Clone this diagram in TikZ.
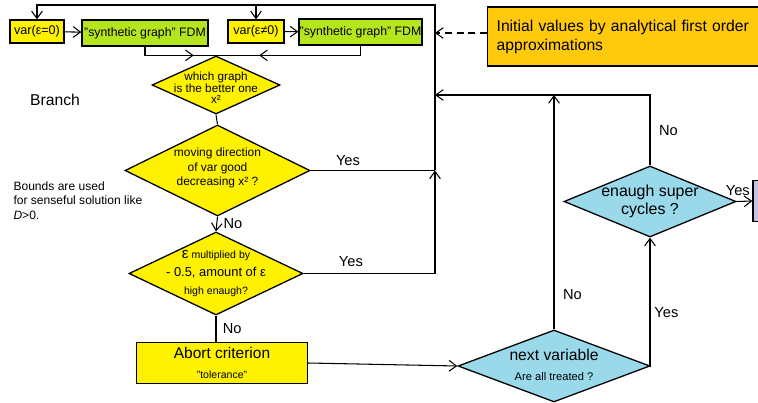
\documentclass[tikz,border=0pt]{standalone}
\usepackage{fontspec}
\setmainfont{Liberation Sans}
\usetikzlibrary{shapes.geometric, arrows.meta, positioning, calc, decorations.markings}

\definecolor{boxyellow}{RGB}{255,242,0}
\definecolor{boxgreen}{RGB}{181,230,29}
\definecolor{boxorange}{RGB}{255,201,14}
\definecolor{boxblue}{RGB}{153,217,234}
\definecolor{boxlilac}{RGB}{200,191,231}

\begin{document}
\begin{tikzpicture}[x=0.03cm, y=-0.03cm, >={Straight Barb[length=2.2mm,width=3.2mm]}, line width=0.9pt,
    box/.style={draw, line width=1.1pt, inner sep=0pt, align=center},
    ydiam/.style={diamond, draw, line width=1.1pt, fill=boxyellow, inner sep=0pt},
    bdiam/.style={diamond, draw, line width=1.1pt, fill=boxblue, inner sep=0pt},
    dtext/.style={align=center, inner sep=0pt},
    lbl/.style={font=\fontsize{12.5}{14}\selectfont},
    midarrow/.style={decoration={markings, mark=at position #1 with {\arrow{>}}}, postaction={decorate}}]
    \useasboundingbox (0,0) rectangle (758,403);
    \clip (0,0) rectangle (758,403);

    % --- Top row: variations and FDM graphs ---
    \node[box, fill=boxyellow, minimum width=1.62cm, minimum height=0.69cm,
      font=\fontsize{10.7}{12}\selectfont] (v0) at (37,31.5) {var(ε=0)};
    \node[box, fill=boxgreen, minimum width=3.78cm, minimum height=0.78cm,
      font=\fontsize{10.5}{12}\selectfont] (s0) at (145,33) {"synthetic graph" FDM};
    \node[box, fill=boxyellow, minimum width=1.68cm, minimum height=0.69cm,
      font=\fontsize{10.7}{12}\selectfont] (v1) at (256,31.5) {var(ε≠0)};
    \node[box, fill=boxgreen, minimum width=3.69cm, minimum height=0.78cm,
      font=\fontsize{10.5}{12}\selectfont] (s1) at (360.5,32) {"synthetic graph" FDM};

    % --- Initial values ---
    \node[box, fill=boxorange, anchor=west, align=left, text width=7.95cm, inner xsep=0.27cm,
      minimum height=1.77cm, font=\fontsize{13.4}{16.2}\selectfont] (init) at (487,36.5)
      {Initial values by analytical first order\\approximations};

    % --- Branch decisions ---
    \node[ydiam, minimum width=3.84cm, minimum height=1.74cm,
      label={[dtext, font=\fontsize{10}{9.6}\selectfont, yshift=-2.5pt]center:{which graph\\is the better one\\x²}}]
      (d0) at (216,85) {};
    \node[ydiam, minimum width=5.55cm, minimum height=2.73cm,
      label={[dtext, font=\fontsize{10.2}{12.4}\selectfont, yshift=2pt]center:{moving direction\\of var good\\decreasing x² ?}}]
      (d1) at (217.5,170.5) {};
    \node[ydiam, minimum width=5.22cm, minimum height=2.49cm,
      label={[dtext, font=\fontsize{9}{15}\selectfont]center:{{\fontsize{13}{15}\selectfont ε} multiplied by\\{\fontsize{11}{13}\selectfont - 0.5, amount of ε}\\high enaugh?}}]
      (d2) at (216,273.5) {};
    \node[box, fill=boxyellow, minimum width=5.13cm, minimum height=1.23cm,
      font=\fontsize{9}{17}\selectfont] (abort) at (222,363)
      {{\fontsize{13.2}{15}\selectfont Abort criterion}\\"tolerance"};

    % --- Loop over variables and super cycles ---
    \node[bdiam, minimum width=5.76cm, minimum height=2.16cm,
      label={[dtext, font=\fontsize{9.5}{17}\selectfont, yshift=1pt]center:{{\fontsize{13.4}{15}\selectfont next variable}\\Are all treated ?}}]
      (next) at (554,366) {};
    \node[bdiam, minimum width=5.16cm, minimum height=2.13cm,
      label={[dtext, font=\fontsize{13.6}{16}\selectfont]center:{enaugh super\\cycles ?}}]
      (cyc) at (650,201.5) {};
    \node[box, fill=boxlilac, minimum width=1.8cm, minimum height=1.23cm] (fin) at (783,201) {};

    % --- Side notes ---
    \node[font=\fontsize{13.4}{16}\selectfont] (branch) at (55,100) {Branch};
    \node[anchor=north west, align=left, inner sep=0pt,
      font=\fontsize{10.3}{12.5}\selectfont] (bounds) at (13,181)
      {Bounds are used\\for senseful solution like\\\textit{D}>0.};

    % --- Junctions on the return line ---
    \coordinate (jtop) at (435,5);
    \coordinate (jinit) at (435,33);
    \coordinate (jloop) at (435,95);
    \coordinate (jyes) at (435,170.5);

    % --- Connectors ---
    \draw[->] (jyes) -- (jtop) -| (v0.north);
    \draw[->] (v1.north |- jtop) -- (v1.north);
    \draw[->] (v0) -- (s0);
    \draw[->] (v1) -- (s1);
    \draw[midarrow=0.72] (s0.south) |- (d0.north);
    \draw[midarrow=0.72] (s1.south) |- (d0.north);
    \draw[->, dash pattern=on 6pt off 4pt] (init.west |- jinit) -- (jinit);

    \draw (d0.south) -- (d1.north);
    \draw (d1.east) -- (jyes) node[lbl, pos=0.3, above] {Yes};
    \draw[->] (d1.south) -- (d2.north) node[lbl, midway, right, xshift=2pt] {No};
    \draw[->] (d2.east) -| (jyes) node[lbl, pos=0.18, above, yshift=2pt] {Yes};
    \draw (d2.south) -- (d2.south |- abort.north) node[lbl, midway, right, xshift=2pt] {No};
    \draw[->] (abort.east) -- (next.west);

    \draw[->] (next.north) -- (next.north |- jloop) node[lbl, pos=0.15, right, xshift=4pt] {No};
    \draw[->] (cyc.north) |- (jloop) node[lbl, pos=0.25, right, xshift=4pt] {No};
    \draw[->] (next.east) -| (cyc.south) node[lbl, pos=0.71, right] {Yes};
    \draw[->] (cyc.east) -- (fin.west) node[lbl, at start, anchor=south, xshift=1pt, yshift=1pt] {Yes};
\end{tikzpicture}
\end{document}
